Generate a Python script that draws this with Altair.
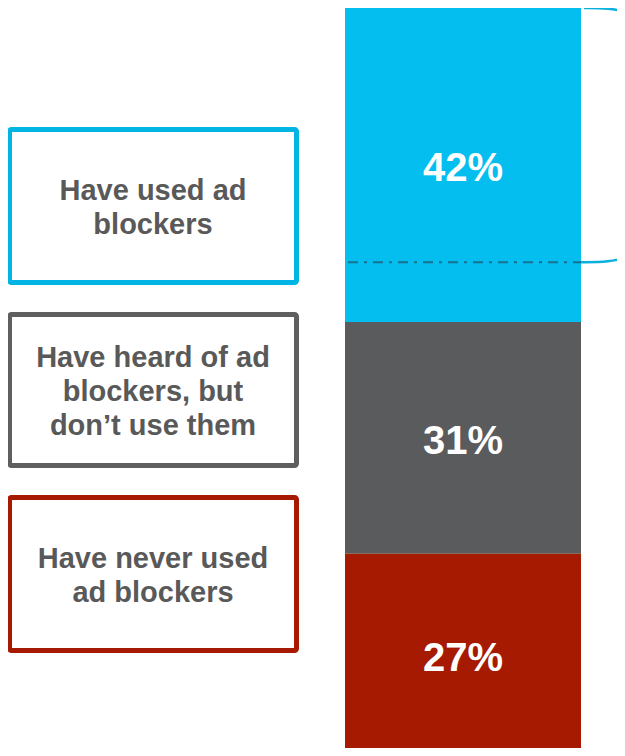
import altair as alt
import pandas as pd

# ---- data ----
categories = ["Have used ad blockers",
              "Have heard of ad blockers, but don't use them",
              "Have never used ad blockers"]
box_labels = ["Have used ad\nblockers",
              "Have heard of ad\nblockers, but\ndon\u2019t use them",
              "Have never used\nad blockers"]
values = [42, 31, 27]
pct_labels = ["42%", "31%", "27%"]
current_use = 34  # dash-dot marker inside the top segment

# ---- styles / layout ----
bar_colors = ["#05BEF0", "#5A5B5D", "#A51A00"]
border_colors = ["#00B4E4", "#5F5F5F", "#A51A00"]
W, H = 609, 740
BAR_X0, BAR_X1 = 337, 573
BAR_CX = (BAR_X0 + BAR_X1) / 2
BOX_X0, BOX_X1 = 1.5, 288.5
BOX_TOPS = [121.5, 306.5, 489.5]
BOX_BOTTOMS = [274.5, 457.5, 642.5]
FONT = "Liberation Sans"
LINE_H = 34

df = pd.DataFrame({"category": categories, "value": values, "label": pct_labels})
df["y1"] = df["value"].cumsum()
df["y0"] = df["y1"] - df["value"]
df["mid"] = (df["y0"] + df["y1"]) / 2

# bar continues past the bottom edge of the view, as in the original slide
yscale = alt.Scale(domain=[0, 99], reverse=True, nice=False, zero=False)
xscale = alt.Scale(domain=[0, W], nice=False, zero=False)

bars = alt.Chart(df).mark_rect().encode(
    x=alt.value(BAR_X0), x2=alt.value(BAR_X1),
    y=alt.Y("y0:Q", scale=yscale, axis=None),
    y2="y1:Q",
    color=alt.Color("category:N", scale=alt.Scale(domain=categories, range=bar_colors), legend=None),
)

pct_text = alt.Chart(df).mark_text(
    font=FONT, fontSize=40, fontWeight="bold", color="white", align="center",
    baseline="middle", dy=4
).encode(
    x=alt.value(BAR_CX),
    y=alt.Y("mid:Q", scale=yscale, axis=None),
    text="label:N",
)

dash_df = pd.DataFrame({"v": [current_use]})
dash = alt.Chart(dash_df).mark_rule(
    color="#1A7090", strokeWidth=2, strokeDash=[10, 6, 3, 6]
).encode(
    x=alt.value(BAR_X0 + 3), x2=alt.value(BAR_X1),
    y=alt.Y("v:Q", scale=yscale, axis=None),
)

# decorative brace (right edge, mostly clipped)
brace_df = pd.DataFrame({
    "bx": [BAR_X1 + 3, 600, 625, 650, 650, 625, 600, BAR_X1],
    "by": [0.0, 0.0, 0.6, 3.0, 30.0, 33.3, 34.0, current_use],
    "o": list(range(8)),
})
brace = alt.Chart(brace_df).mark_line(
    color="#0AB0DE", strokeWidth=2.5, interpolate="basis"
).encode(
    x=alt.X("bx:Q", scale=xscale, axis=None),
    y=alt.Y("by:Q", scale=yscale, axis=None),
    order="o:Q",
)

layers = [bars, dash, pct_text, brace]
for i in range(3):
    bdf = pd.DataFrame({"label": [box_labels[i]]})
    n_lines = box_labels[i].count("\n") + 1
    box = alt.Chart(bdf).mark_rect(
        fill="white", stroke=border_colors[i], strokeWidth=5, cornerRadius=2
    ).encode(
        x=alt.value(BOX_X0), x2=alt.value(BOX_X1),
        y=alt.value(BOX_TOPS[i]), y2=alt.value(BOX_BOTTOMS[i]),
    )
    txt = alt.Chart(bdf).mark_text(
        font=FONT, fontSize=29, fontWeight="bold", color="#595959",
        align="center", baseline="middle", lineBreak="\n", lineHeight=LINE_H,
        dy=-(n_lines - 1) * LINE_H / 2 + 2,
    ).encode(
        x=alt.value((BOX_X0 + BOX_X1) / 2),
        y=alt.value((BOX_TOPS[i] + BOX_BOTTOMS[i]) / 2),
        text="label:N",
    )
    layers += [box, txt]

chart = alt.layer(*layers).properties(
    width=W, height=H, padding=0, autosize=alt.AutoSizeParams(type="none"),
    background="white",
).configure_view(stroke=None)

chart.save("out.html", embed_options={"renderer": "svg", "actions": False})
